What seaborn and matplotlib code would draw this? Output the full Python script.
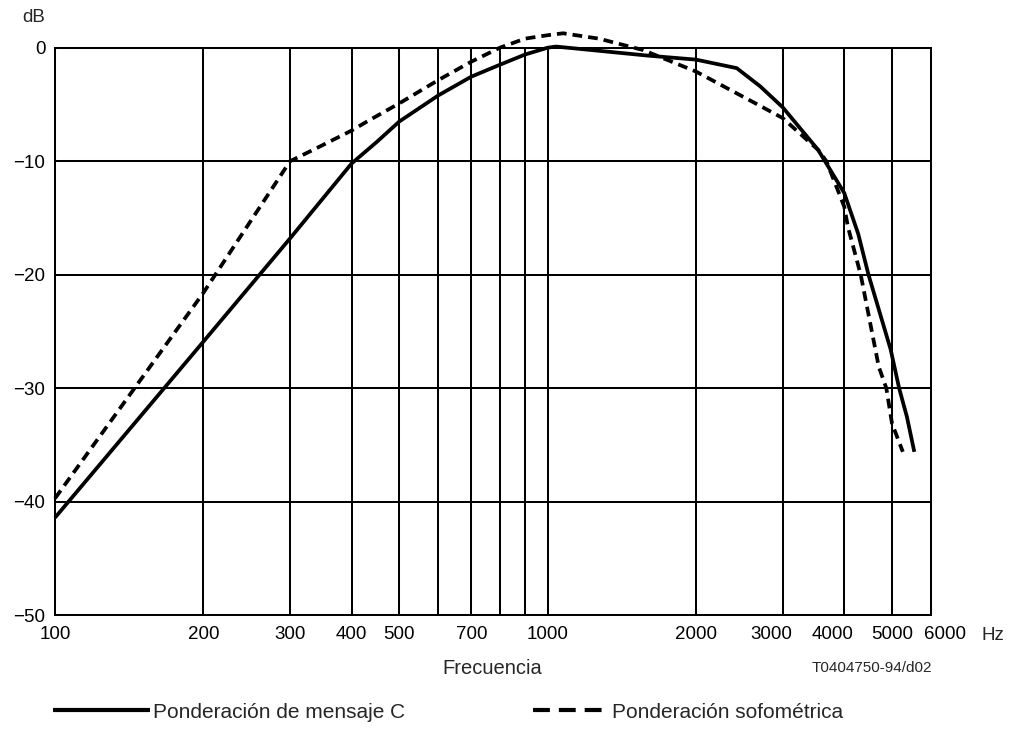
import numpy as np
import pandas as pd
import matplotlib
matplotlib.use("Agg")
import matplotlib.pyplot as plt
import matplotlib.transforms as mtransforms
import seaborn as sns
from matplotlib.lines import Line2D
from matplotlib.ticker import FixedLocator, FixedFormatter, NullLocator

# ---- data ----
freq_c = [100, 200, 300, 400, 450, 500, 600, 700, 800, 900, 1000, 1040, 1600,
          2000, 2420, 2700, 3000, 3540, 4000, 4270, 4480, 4970, 5170, 5360, 5550]
db_c = [-41.4, -25.9, -16.8, -10.2, -8.3, -6.5, -4.2, -2.55, -1.5, -0.6, 0.0, 0.1, -0.7,
        -1.05, -1.8, -3.4, -5.25, -9.0, -12.8, -16.4, -20.0, -26.6, -30.0, -32.5, -35.6]

freq_s = [100, 200, 300, 345, 400, 430, 500, 600, 700, 800, 900, 1000, 1075, 1270,
          1560, 2000, 2680, 3000, 3540, 3680, 4000, 4070, 4320, 4700, 4870, 5000, 5260]
db_s = [-39.7, -21.6, -10.0, -8.7, -7.3, -6.5, -4.9, -2.85, -1.23, 0.0, 0.8, 1.1, 1.27, 0.8,
        -0.2, -2.1, -5.05, -6.2, -9.0, -10.0, -14.0, -15.8, -20.0, -28.1, -30.0, -33.1, -35.6]

x_grid = [200, 300, 400, 500, 600, 700, 800, 900, 1000, 2000, 3000, 4000, 5000, 6000]
x_tick_vals = [100, 200, 300, 400, 500, 700, 1000, 2000, 3000, 4000, 5000, 6000]
x_tick_labels = ["100", "200", "300", "400", "500", "700", "1000", "2000", "3000",
                 "4000", "5000", "6000"]
y_ticks = [0, -10, -20, -30, -40, -50]
y_tick_labels = ["0", "\u221210", "\u221220", "\u221230", "\u221240", "\u221250"]

label_c = "Ponderación de mensaje C"
label_s = "Ponderación sofométrica"

# ---- styling ----
sns.set_style("white")
plt.rcParams["font.family"] = ["Liberation Sans", "DejaVu Sans"]
plt.rcParams["axes.unicode_minus"] = True

W, H = 1011, 749
fig = plt.figure(figsize=(W / 100, H / 100), dpi=100)
ax = fig.add_axes([55 / W, 1 - 615.3 / H, (931 - 55) / W, (615.3 - 47.7) / H])

dash_chart = (0, (2.6, 1.6))
LW = 2.7

df = pd.concat([
    pd.DataFrame({"f": freq_c, "dB": db_c, "curva": label_c}),
    pd.DataFrame({"f": freq_s, "dB": db_s, "curva": label_s}),
])

sns.lineplot(data=df[df["curva"] == label_c], x="f", y="dB", ax=ax, color="black",
             linewidth=LW, sort=False, estimator=None, legend=False, zorder=3)
sns.lineplot(data=df[df["curva"] == label_s], x="f", y="dB", ax=ax, color="black",
             linewidth=LW, sort=False, estimator=None, legend=False, zorder=3,
             linestyle=dash_chart)
for line in ax.lines:
    line.set_clip_on(False)
    line.set_solid_capstyle("butt")

ax.set_xscale("log")
ax.set_xlim(100, 6000)
ax.set_ylim(-50, 0)

# grid lines
for xv in x_grid:
    ax.axvline(xv, color="black", linewidth=1.45, zorder=1)
for yv in y_ticks:
    ax.axhline(yv, color="black", linewidth=1.45, zorder=1)

ax.xaxis.set_major_locator(FixedLocator(x_tick_vals))
ax.xaxis.set_major_formatter(FixedFormatter(x_tick_labels))
ax.xaxis.set_minor_locator(NullLocator())
ax.set_yticks(y_ticks)
ax.set_yticklabels(y_tick_labels)
ax.tick_params(axis="x", length=0, labelsize=13.5, colors="black", pad=8)
ax.tick_params(axis="y", length=0, labelsize=13.5, colors="black", pad=7)
ax.set_xlabel("")
ax.set_ylabel("")

# crowded labels near the right end are nudged apart, as in the reference
shifts = {"3000": -11, "4000": -12, "6000": 14}
for lab in ax.get_xticklabels():
    s = shifts.get(lab.get_text())
    if s:
        lab.set_transform(lab.get_transform() +
                          mtransforms.ScaledTranslation(s / 100, 0, fig.dpi_scale_trans))

for s in ax.spines.values():
    s.set_visible(True)
    s.set_color("black")
    s.set_linewidth(1.45)

fig.text(34 / W, 1 - 18 / H, "dB", fontsize=13.5, ha="center", va="center")
fig.text(993 / W, 1 - 636 / H, "Hz", fontsize=13.5, ha="center", va="center")
fig.text(492 / W, 1 - 668 / H, "Frecuencia", fontsize=14.5, ha="center", va="center")
fig.text(872 / W, 1 - 668 / H, "T0404750-94/d02", fontsize=11, ha="center", va="center")

fs_leg = 15
em = fs_leg * 100 / 72.0
h1 = Line2D([], [], color="black", linewidth=3.0, solid_capstyle="butt")
h2 = Line2D([], [], color="black", linewidth=3.0, linestyle=(0, (4.05, 2.15)),
            dash_capstyle="butt")
fig.legend([h1], [label_c], loc="center left", bbox_to_anchor=(53 / W, 1 - 712 / H),
           frameon=False, borderpad=0, borderaxespad=0, handlelength=97 / em,
           handletextpad=3 / em, prop={"size": fs_leg})
fig.legend([h2], [label_s], loc="center left", bbox_to_anchor=(533 / W, 1 - 712 / H),
           frameon=False, borderpad=0, borderaxespad=0, handlelength=69 / em,
           handletextpad=10 / em, prop={"size": fs_leg})

fig.savefig("out.png", dpi=100)
